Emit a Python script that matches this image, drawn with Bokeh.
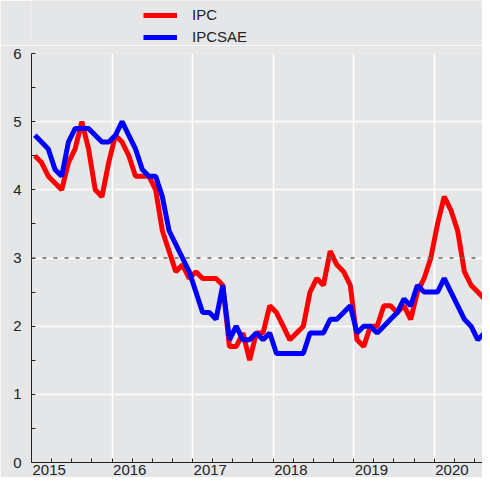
from bokeh.plotting import figure
from bokeh.layouts import column
from bokeh.models import (FixedTicker, Span, Legend, LegendItem, ColumnDataSource,
                          NumeralTickFormatter)
from bokeh.embed import file_html
from bokeh.resources import INLINE

# Monthly data, Jan 2015 .. Aug 2020
start_year = 2015
ipc = [4.5, 4.4, 4.2, 4.1, 4.0, 4.4, 4.6, 5.0, 4.6, 4.0, 3.9, 4.4,
       4.8, 4.7, 4.5, 4.2, 4.2, 4.2, 4.0, 3.4, 3.1, 2.8, 2.9, 2.7,
       2.8, 2.7, 2.7, 2.7, 2.6, 1.7, 1.7, 1.9, 1.5, 1.9, 1.9, 2.3,
       2.2, 2.0, 1.8, 1.9, 2.0, 2.5, 2.7, 2.6, 3.1, 2.9, 2.8, 2.6,
       1.8, 1.7, 2.0, 2.0, 2.3, 2.3, 2.2, 2.3, 2.1, 2.5, 2.7, 3.0,
       3.5, 3.9, 3.7, 3.4, 2.8, 2.6, 2.5, 2.4]
ipcsae = [4.8, 4.7, 4.6, 4.3, 4.2, 4.7, 4.9, 4.9, 4.9, 4.8, 4.7, 4.7,
          4.8, 5.0, 4.8, 4.6, 4.3, 4.2, 4.2, 3.9, 3.4, 3.2, 3.0, 2.8,
          2.5, 2.2, 2.2, 2.1, 2.6, 1.8, 2.0, 1.8, 1.8, 1.9, 1.8, 1.9,
          1.6, 1.6, 1.6, 1.6, 1.6, 1.9, 1.9, 1.9, 2.1, 2.1, 2.2, 2.3,
          1.9, 2.0, 2.0, 1.9, 2.0, 2.1, 2.2, 2.4, 2.3, 2.6, 2.5, 2.5,
          2.5, 2.7, 2.5, 2.3, 2.1, 2.0, 1.8, 1.9]
series_names = ["IPC", "IPCSAE"]
series_colors = ["#ff0000", "#0000ff"]
years = [2015, 2016, 2017, 2018, 2019, 2020]
y_ticks = [0, 1, 2, 3, 4, 5, 6]
target = 3

# mid-month positions in decimal years
x = [start_year + (i + 0.5) / 12 for i in range(len(ipc))]
src = ColumnDataSource(dict(x=x, ipc=ipc, ipcsae=ipcsae))

bg = "#e5e6e8"
W = 482

# ---- legend strip on top (series drawn off-range, only the legend shows) ----
lf = figure(width=W, height=45, x_range=(0, 1), y_range=(0, 1),
            output_backend="svg", toolbar_location=None,
            min_border=0, background_fill_color=bg, border_fill_color=bg,
            outline_line_color=None)
lf.axis.visible = False
lf.grid.visible = False
items = []
for name, col, key in zip(series_names, series_colors, ["ipc", "ipcsae"]):
    rr = lf.line("x", key, source=src, line_color=col, line_width=5)
    items.append(LegendItem(label=name, renderers=[rr]))
legend = Legend(items=items, location=(112, 0), orientation="vertical",
                background_fill_alpha=0, border_line_color=None,
                padding=0, margin=0, spacing=5,
                label_height=10, glyph_height=10, glyph_width=34, label_standoff=15,
                label_text_font="Liberation Sans", label_text_font_size="15px",
                label_text_color="#222222", label_text_baseline="middle")
lf.add_layout(legend)

# ---- main chart ----
p = figure(width=W, height=432, x_range=(2015, 2020.6), y_range=(0, 6),
           output_backend="svg", toolbar_location=None,
           min_border_left=31, min_border_right=0, min_border_top=8, min_border_bottom=0,
           background_fill_color=bg, border_fill_color=bg, outline_line_color=None)

quarters = [y + q / 4 for y in years for q in range(4)]
halves = [v + 0.5 for v in y_ticks[:-1]]
label_pos = [y + 0.22 for y in years]
p.xaxis.ticker = FixedTicker(ticks=label_pos, minor_ticks=quarters)
p.xaxis.formatter = NumeralTickFormatter(format="0")
p.yaxis.ticker = FixedTicker(ticks=y_ticks, minor_ticks=halves)
p.xgrid.ticker = FixedTicker(ticks=years)
p.ygrid.ticker = FixedTicker(ticks=y_ticks)
for g in (p.xgrid, p.ygrid):
    g.grid_line_color = "white"
    g.grid_line_width = 1.5

for ax in (p.xaxis, p.yaxis):
    ax.axis_line_color = "#222222"
    ax.major_tick_line_color = "#222222"
    ax.minor_tick_line_color = "#222222"
    ax.major_tick_out = 0
    ax.minor_tick_out = 0
    ax.major_label_text_font = "Liberation Sans"
    ax.major_label_text_font_size = "15px"
    ax.major_label_text_color = "#222222"
p.xaxis.major_tick_in = 0
p.xaxis.minor_tick_in = 4
p.yaxis.major_tick_in = 4
p.yaxis.minor_tick_in = 4
p.xaxis.major_label_standoff = 2
p.yaxis.major_label_standoff = 10

p.add_layout(Span(location=target, dimension="width", line_color="#666666",
                  line_width=1.5, line_dash="4 7"))

p.line("x", "ipc", source=src, line_color=series_colors[0], line_width=5)
p.line("x", "ipcsae", source=src, line_color=series_colors[1], line_width=5)

layout = column(lf, p, spacing=0)
open("out.html", "w").write(file_html(layout, INLINE))
